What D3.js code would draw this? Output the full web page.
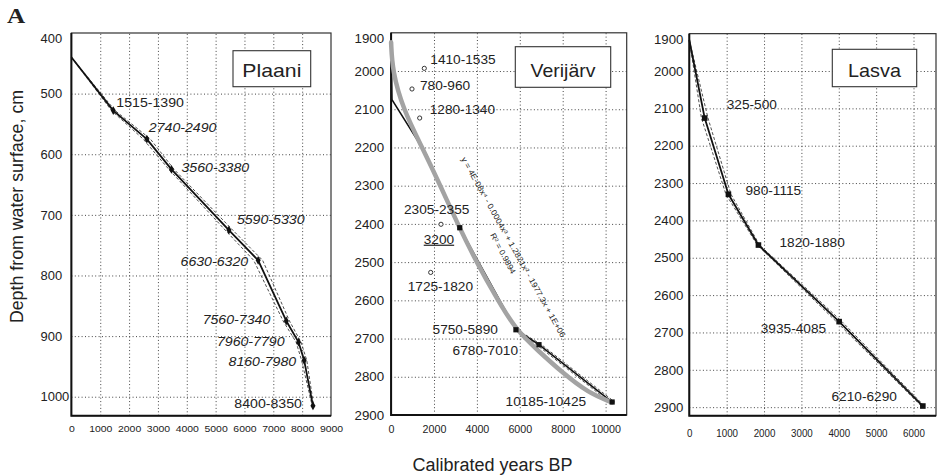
<!DOCTYPE html>
<html>
<head>
<meta charset="utf-8">
<script src="https://cdn.jsdelivr.net/npm/d3@7"></script>
<style>
body { margin: 0; background: #fff; }
svg text { font-family: "Liberation Sans", Arial, sans-serif; fill: #222; }
</style>
</head>
<body>
<div id="chart"></div>
<script>
// ---- Plaani ----
const plaaniLabels = ["1515-1390", "2740-2490", "3560-3380", "5590-5330", "6630-6320",
    "7560-7340", "7960-7790", "8160-7980", "8400-8350"];
const plaaniItalic = [false, true, true, true, true, true, true, true, false];
const plaaniYears = [1452, 2615, 3470, 5460, 6475, 7450, 7875, 8070, 8375];
const plaaniMin = [1390, 2490, 3380, 5330, 6320, 7340, 7790, 7980, 8350];
const plaaniMax = [1515, 2740, 3560, 5590, 6630, 7560, 7960, 8160, 8400];
const plaaniDepth = [528, 575, 625, 725, 775, 875, 910, 940, 1015];
const plaaniStart = [0, 440];
const plaaniXTicks = [0, 1000, 2000, 3000, 4000, 5000, 6000, 7000, 8000, 9000];
const plaaniYTicks = [400, 500, 600, 700, 800, 900, 1000];

// ---- Verijärv ----
const verOutLabels = ["1410-1535", "780-960", "1280-1340", "2305-2355", "1725-1820"];
const verOutYears = [1548, 974, 1333, 2326, 1846];
const verOutDepth = [1993, 2047, 2123, 2401, 2527];
const verLabels = ["3200", "5750-5890", "6780-7010", "10185-10425"];
const verYears = [3200, 5820, 6895, 10305];
const verMin = [3200, 5750, 6780, 10185];
const verMax = [3200, 5890, 7010, 10425];
const verDepth = [2410, 2677, 2716, 2866];
const verTopYears = [0, 40, 1640];
const verTopDepth = [1925, 2075, 2218];
const verFitYears = [0, 60, 560, 1450, 2300, 3100, 3980, 4980, 5820, 6860, 8000, 9190, 10300];
const verFitDepth = [1925, 2000, 2100, 2200, 2300, 2400, 2500, 2600, 2677, 2732, 2790, 2842, 2867];
const verEquation = "y = 4E-08x\u2074 - 0.0004x\u00b3 + 1.2821x\u00b2 - 1977.3x + 1E+06";
const verR2 = "R\u00b2 = 0.9894";
const verXTicks = [0, 2000, 4000, 6000, 8000, 10000];
const verYTicks = [1900, 2000, 2100, 2200, 2300, 2400, 2500, 2600, 2700, 2800, 2900];

// ---- Lasva ----
const lasvaLabels = ["325-500", "980-1115", "1820-1880", "3935-4085", "6210-6290"];
const lasvaYears = [412, 1047, 1850, 4010, 6250];
const lasvaMin = [325, 980, 1820, 3935, 6210];
const lasvaMax = [500, 1115, 1880, 4085, 6290];
const lasvaDepth = [2126, 2330, 2466, 2671, 2897];
const lasvaStart = [0, 1917];
const lasvaXTicks = [0, 1000, 2000, 3000, 4000, 5000, 6000];
const lasvaYTicks = [1900, 2000, 2100, 2200, 2300, 2400, 2500, 2600, 2700, 2800, 2900];

const svg = d3.select("#chart").append("svg")
    .attr("width", 937)
    .attr("height", 476);

// stretched text, anchored at (x, y)
const addText = (g, x, y, str, size, sx, anchor, italic) => {
    return g.append("text")
        .attr("transform", `translate(${x},${y}) scale(${sx},1)`)
        .attr("font-size", size)
        .attr("text-anchor", anchor || "start")
        .style("font-style", italic ? "italic" : "normal")
        .text(str);
};

const makePanel = (p) => {
    const x = d3.scaleLinear().domain(p.xDom).range([p.left, p.right]);
    const y = d3.scaleLinear().domain(p.yDom).range([p.top, p.bottom]);
    const g = svg.append("g");
    const w = p.right - p.left, h = p.bottom - p.top;

    g.append("rect").attr("x", p.left).attr("y", p.top)
        .attr("width", w).attr("height", h).attr("fill", "#fff");

    // dotted grid
    const gx = p.xTicks.filter(v => x(v) > p.left + 1 && x(v) < p.right - 1);
    const gy = p.yTicks.filter(v => y(v) > p.top + 1 && y(v) < p.bottom - 1);
    g.append("g").attr("transform", `translate(0,${p.bottom})`)
        .call(d3.axisBottom(x).tickValues(gx).tickSize(-h).tickFormat(""))
        .call(s => {
            s.select(".domain").remove();
            s.selectAll("line").attr("stroke", "#444").attr("stroke-width", 1)
                .attr("stroke-dasharray", "1,2.4");
        });
    g.append("g").attr("transform", `translate(${p.left},0)`)
        .call(d3.axisLeft(y).tickValues(gy).tickSize(-w).tickFormat(""))
        .call(s => {
            s.select(".domain").remove();
            s.selectAll("line").attr("stroke", "#444").attr("stroke-width", 1)
                .attr("stroke-dasharray", "1,2.4");
        });

    // frame
    g.append("rect").attr("x", p.left).attr("y", p.top)
        .attr("width", w).attr("height", h)
        .attr("fill", "none").attr("stroke", "#333").attr("stroke-width", 1.2);
    g.append("path")
        .attr("d", `M${p.left},${p.top}V${p.bottom}H${p.right}`)
        .attr("fill", "none").attr("stroke", "#111").attr("stroke-width", 2);

    // tick labels
    g.append("g").attr("transform", `translate(0,${p.bottom})`)
        .call(d3.axisBottom(x).tickValues(p.xTicks).tickSize(0).tickPadding(0).tickFormat(d3.format("d")))
        .call(s => {
            s.select(".domain").remove();
            s.selectAll("text")
                .attr("y", p.xLabelDy).attr("dy", null)
                .attr("font-size", p.xFont).attr("fill", "#222")
                .attr("font-family", null)
                .attr("transform", `scale(${p.xSx},1)`);
        });
    g.append("g").attr("transform", `translate(${p.left},0)`)
        .call(d3.axisLeft(y).tickValues(p.yTicks).tickSize(0).tickPadding(0).tickFormat(d3.format("d")))
        .call(s => {
            s.select(".domain").remove();
            s.selectAll("text")
                .attr("x", p.yLabelX).attr("dy", d => d === p.yDom[0] ? "0.8em" : "0.35em")
                .attr("text-anchor", p.yAnchor)
                .attr("font-size", 12).attr("fill", "#222")
                .attr("font-family", null)
                .attr("transform", `scale(${p.ySx},1)`);
        });

    // name box
    const b = p.box;
    g.append("rect").attr("x", b[0]).attr("y", b[1]).attr("width", b[2]).attr("height", b[3])
        .attr("fill", "#fff").attr("stroke", "#333").attr("stroke-width", 1.1);
    addText(g, b[0] + b[2] / 2, b[1] + b[3] - 10, p.name, 18, p.nameSx, "middle");

    return { x, y, g };
};

const solid = (g, pts, width) => g.append("path")
    .attr("d", d3.line()(pts))
    .attr("fill", "none").attr("stroke", "#111").attr("stroke-width", width)
    .attr("stroke-linejoin", "round");
const dashed = (g, pts) => g.append("path")
    .attr("d", d3.line()(pts))
    .attr("fill", "none").attr("stroke", "#222").attr("stroke-width", 0.8)
    .attr("stroke-dasharray", "3,2");

// ---------- Plaani ----------
{
    const { x, y, g } = makePanel({
        left: 71.4, right: 331, top: 33, bottom: 415.7,
        xDom: [0, 9000], yDom: [400, 1031.3],
        xTicks: plaaniXTicks, yTicks: plaaniYTicks,
        xFont: 9.5, xSx: 1.1, xLabelDy: 16,
        yLabelX: -30.9 / 1.08, yAnchor: "start", ySx: 1.08,
        box: [233, 50.7, 77.7, 36], name: "Plaani", nameSx: 1.18
    });
    const start = [x(plaaniStart[0]), y(plaaniStart[1])];
    dashed(g, [start].concat(plaaniMin.map((v, i) => [x(v), y(plaaniDepth[i])])));
    dashed(g, [start].concat(plaaniMax.map((v, i) => [x(v), y(plaaniDepth[i])])));
    solid(g, [start].concat(plaaniYears.map((v, i) => [x(v), y(plaaniDepth[i])])), 1.8);
    g.selectAll(".mk").data(plaaniYears).join("path")
        .attr("transform", (d, i) => `translate(${x(d)},${y(plaaniDepth[i])})`)
        .attr("d", d3.symbol(d3.symbolDiamond, 22))
        .attr("fill", "#111");
    const off = [[3, -4, "start"], [2, -7, "start"], [10, 3, "start"], [8, -6, "start"],
        [-10, 6, "end"], [-16, 3, "end"], [-14, 4, "end"], [-8, 6, "end"], [-11, 2, "end"]];
    plaaniLabels.forEach((t, i) => {
        addText(g, x(plaaniYears[i]) + off[i][0], y(plaaniDepth[i]) + off[i][1],
            t, 12, 1.18, off[i][2], plaaniItalic[i]);
    });
}

// ---------- Verijärv ----------
{
    const { x, y, g } = makePanel({
        left: 391.1, right: 626.7, top: 32.8, bottom: 415,
        xDom: [0, 10984], yDom: [1900, 2900],
        xTicks: verXTicks, yTicks: verYTicks,
        xFont: 10.5, xSx: 1.02, xLabelDy: 18.3,
        yLabelX: -7 / 1.11, yAnchor: "end", ySx: 1.11,
        box: [515.3, 46.7, 95.4, 40.6], name: "Verij\u00e4rv", nameSx: 1.08
    });
    const blackPts = verTopYears.map((v, i) => [x(v), y(verTopDepth[i])])
        .concat(verYears.map((v, i) => [x(v), y(verDepth[i])]));
    solid(g, blackPts, 1.6);
    dashed(g, verMin.slice(1).map((v, i) => [x(v), y(verDepth[i + 1])]));
    dashed(g, verMax.slice(1).map((v, i) => [x(v), y(verDepth[i + 1])]));
    g.append("path")
        .attr("d", d3.line().curve(d3.curveBasis)(verFitYears.map((v, i) => [x(v), y(verFitDepth[i])])))
        .attr("fill", "none").attr("stroke", "#a3a3a3").attr("stroke-width", 4.5)
        .attr("stroke-linecap", "round");
    g.selectAll(".sq").data(verYears).join("rect")
        .attr("x", d => x(d) - 2.6).attr("y", (d, i) => y(verDepth[i]) - 2.6)
        .attr("width", 5.2).attr("height", 5.2).attr("fill", "#111");
    g.selectAll(".oc").data(verOutYears).join("circle")
        .attr("cx", d => x(d)).attr("cy", (d, i) => y(verOutDepth[i]))
        .attr("r", 2.1).attr("fill", "#fff").attr("stroke", "#222").attr("stroke-width", 0.9);

    const offOut = [[6, -4, "start"], [8, 1, "start"], [10, -4, "start"], [-37, -10, "start"], [-23, 19, "start"]];
    verOutLabels.forEach((t, i) => {
        addText(g, x(verOutYears[i]) + offOut[i][0], y(verOutDepth[i]) + offOut[i][1],
            t, 12, 1.14, offOut[i][2], false);
    });
    const offSq = [[-36, 16, "start"], [-18, 4, "end"], [-21, 10, "end"], [-26, 4, "end"]];
    verLabels.forEach((t, i) => {
        const tx = addText(g, x(verYears[i]) + offSq[i][0], y(verDepth[i]) + offSq[i][1],
            t, 12, 1.14, offSq[i][2], false);
        if (i === 0) tx.attr("text-decoration", "underline");
    });

    g.append("text")
        .attr("transform", `translate(${x(3259)},${y(2230)}) rotate(60.8)`)
        .attr("font-size", 8).attr("textLength", 205).attr("lengthAdjust", "spacingAndGlyphs")
        .text(verEquation);
    g.append("text")
        .attr("transform", `translate(${x(4606)},${y(2429)}) rotate(61.5)`)
        .attr("font-size", 8).attr("textLength", 45).attr("lengthAdjust", "spacingAndGlyphs")
        .text(verR2);
}

// ---------- Lasva ----------
{
    const { x, y, g } = makePanel({
        left: 689.3, right: 936, top: 33.65, bottom: 415.7,
        xDom: [0, 6602], yDom: [1900, 2922.9],
        xTicks: lasvaXTicks, yTicks: lasvaYTicks,
        xFont: 10, xSx: 0.98, xLabelDy: 21.6,
        yLabelX: -6 / 1.1, yAnchor: "end", ySx: 1.1,
        box: [832.3, 49.3, 84.4, 37.4], name: "Lasva", nameSx: 1.1
    });
    const start = [x(lasvaStart[0]), y(lasvaStart[1])];
    dashed(g, [start].concat(lasvaMin.map((v, i) => [x(v), y(lasvaDepth[i])])));
    dashed(g, [start].concat(lasvaMax.map((v, i) => [x(v), y(lasvaDepth[i])])));
    solid(g, [start].concat(lasvaYears.map((v, i) => [x(v), y(lasvaDepth[i])])), 1.8);
    g.selectAll(".sq").data(lasvaYears).join("rect")
        .attr("x", d => x(d) - 2.8).attr("y", (d, i) => y(lasvaDepth[i]) - 2.8)
        .attr("width", 5.6).attr("height", 5.6).attr("fill", "#111");
    const off = [[22, -9, "start"], [17, 1, "start"], [21, 2, "start"], [-13, 11, "end"], [-26, -5, "end"]];
    lasvaLabels.forEach((t, i) => {
        addText(g, x(lasvaYears[i]) + off[i][0], y(lasvaDepth[i]) + off[i][1],
            t, 12, 1.14, off[i][2], false);
    });
}

// ---------- titles ----------
svg.append("text")
    .attr("transform", "translate(7,23.3) scale(1.2,1)")
    .attr("font-size", 21).attr("font-weight", "bold")
    .style("font-family", "'Liberation Serif', 'Times New Roman', serif")
    .text("A");
svg.append("text")
    .attr("transform", "translate(23,206.5) rotate(-90)")
    .attr("font-size", 17.8).attr("text-anchor", "middle")
    .text("Depth from water surface, cm");
svg.append("text")
    .attr("x", 492.5).attr("y", 470.7)
    .attr("font-size", 18).attr("text-anchor", "middle")
    .text("Calibrated years BP");
</script>
</body>
</html>
